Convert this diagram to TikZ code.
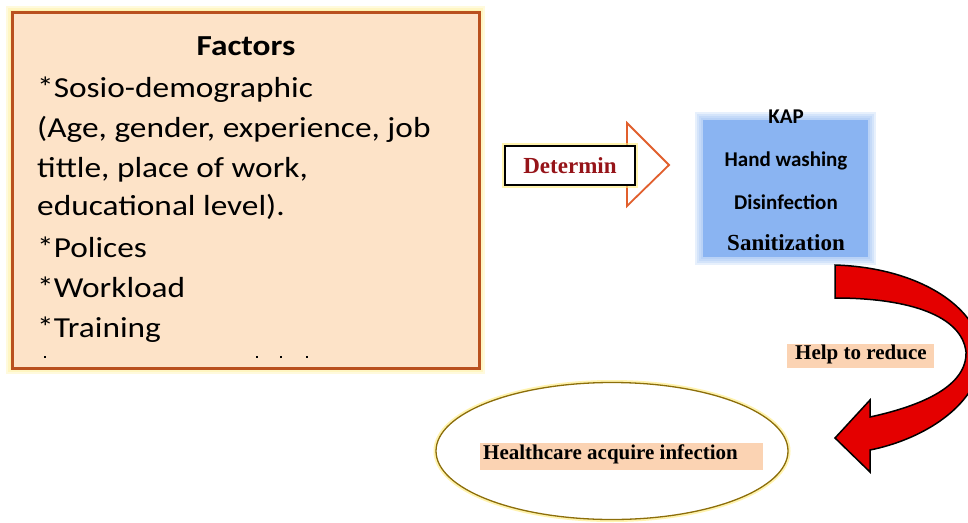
\documentclass[tikz,border=0pt]{standalone}
\usepackage{fontspec}
\setmainfont{Liberation Serif}
\newfontfamily\calibri{Carlito}
\newfontfamily\widecalibri[FakeStretch=1.15]{Carlito}
\usetikzlibrary{shapes.geometric}

\definecolor{peach}{RGB}{253,227,200}
\definecolor{rust}{RGB}{185,80,30}
\definecolor{glow}{RGB}{255,236,120}
\definecolor{kapblue}{RGB}{138,180,242}
\definecolor{darkred}{RGB}{150,20,25}
\definecolor{hotred}{RGB}{228,0,0}
\definecolor{olive}{RGB}{140,110,10}
\definecolor{tagpeach}{RGB}{250,200,160}

\begin{document}
\begin{tikzpicture}[x=1pt, y=-1pt,
    line/.style={font=\widecalibri\fontsize{29pt}{40pt}\selectfont, anchor=base west, inner sep=0pt},
    kap/.style={font=\calibri\bfseries\fontsize{21pt}{24pt}\selectfont, inner sep=1pt},
    tag/.style={fill=tagpeach, fill opacity=0.8, inner sep=0pt},
    tagtext/.style={font=\bfseries\fontsize{21pt}{24pt}\selectfont, inner sep=0pt}]
        \useasboundingbox[fill=white] (0,0) rectangle (968,522);

        % factors box with a soft yellow rim
        \foreach \g in {6,4,2}
          \fill[glow, opacity=0.25] (12-\g,12-\g) rectangle (479+\g,368+\g);
        \node[draw=rust, line width=3pt, fill=peach, minimum width=467pt, minimum height=356pt, inner sep=0pt] (factors) at (245.5,190) {};
        \node[font=\widecalibri\bfseries\fontsize{29pt}{34pt}\selectfont, anchor=base] (title) at (246,55) {Factors};
        \foreach \t/\y [count=\i] in {{*Sosio-demographic}/97, {(Age, gender, experience, job}/137,
            {tittle, place of work,}/177, {educational level).}/215, {*Polices}/257,
            {*Workload}/297, {*Training}/337}
          \node[line] (f\i) at (37,\y) {\t};
        \foreach \x in {45,257,281,307}
          \fill (\x-1,356) rectangle (\x+1,358);

        % determin arrow
        \draw[draw={rgb,255:red,225;green,95;blue,45}, line width=1.8pt, fill=white, line join=miter]
          (600,150) -- (627,150) -- (627,123) -- (669,165) -- (627,206) -- (627,181) -- (600,181) -- cycle;
        \fill[glow, opacity=0.6] (502,143) rectangle (638,188);
        \node[draw=black, line width=1.2pt, fill=white, minimum width=130pt, minimum height=39pt,
          font=\bfseries\fontsize{23pt}{26pt}\selectfont, text=darkred] (det) at (570,165.5) {Determin};

        % kap box with soft edge
        \foreach \g in {8,6,4,2}
          \fill[kapblue, opacity=0.2] (703-\g,120-\g) rectangle (868+\g,257+\g);
        \node[fill=kapblue, minimum width=165pt, minimum height=137pt, inner sep=0pt] (kapbox) at (785.5,188.5) {};
        \node[kap] (kap) at (786,117) {KAP};
        \node[kap] (hand) at (786,161) {Hand washing};
        \node[kap] (dis) at (786,202) {Disinfection};
        \node[font=\bfseries\fontsize{23pt}{26pt}\selectfont, inner sep=1pt] (san) at (786,243) {Sanitization};

        % curved red arrow
        \draw[fill=hotred, draw=black, line width=1.5pt, line join=miter]
          (835,265) .. controls (930,268) and (992,318) .. (980,368)
          .. controls (970,410) and (920,440) .. (870,450)
          -- (870,472) -- (835,438) -- (870,400) -- (870,417)
          .. controls (925,405) and (967,385) .. (966,352)
          .. controls (962,316) and (910,298) .. (835,298) -- cycle;
        \node[tag, minimum width=147pt, minimum height=24pt] (helpbg) at (860,356) {};
        \node[tagtext, anchor=west] (help) at (795,354) {Help to reduce};

        % infection ellipse
        \node[ellipse, draw=glow, line width=5pt, opacity=0.6, minimum width=352pt, minimum height=137pt] (halo) at (612,451) {};
        \node[ellipse, draw=olive, line width=1.3pt, fill=white, minimum width=352pt, minimum height=137pt] (hai) at (612,451) {};
        \node[tag, minimum width=283pt, minimum height=27pt] (haibg) at (621.5,456.5) {};
        \node[tagtext, anchor=west] (hailabel) at (483,454) {Healthcare acquire infection};
\end{tikzpicture}
\end{document}
